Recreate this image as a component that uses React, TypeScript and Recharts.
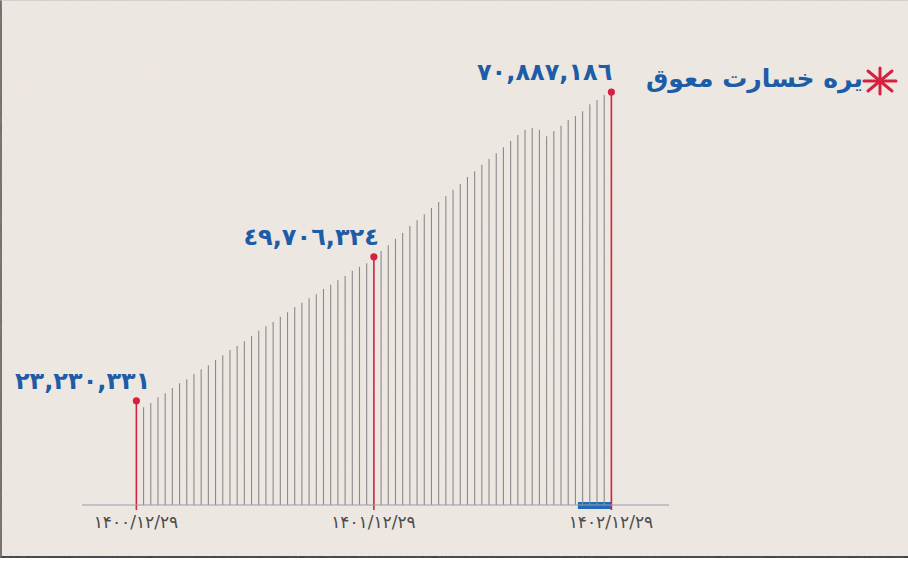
import React from 'react';
import { BarChart, Bar, XAxis, YAxis, ReferenceArea } from 'recharts';

// line heights (millions, visual scale)
const barValues = [
  17.9, 16.8, 17.5, 18.5, 19.2, 20.1, 20.9, 21.6, 22.5, 23.3, 24.0, 24.9,
  25.7, 26.6, 27.3, 28.1, 29.0, 29.9, 30.7, 31.4, 32.3, 33.1, 34.0, 34.7,
  35.5, 36.2, 37.1, 37.8, 38.6, 39.3, 40.2, 40.9, 41.5, 42.6, 43.6, 44.6,
  45.7, 46.7, 47.9, 48.9, 49.9, 51.0, 52.0, 53.0, 54.1, 55.1, 56.3, 57.3,
  58.4, 59.4, 60.4, 61.4, 62.5, 63.5, 64.4, 64.7, 64.4, 63.3, 64.2, 65.1,
  66.1, 66.8, 67.6, 68.8, 69.5, 70.4, 70.9,
];
const keyPoints = [0, 33, 66];
const keyValueLabels = ['٢٣,٢٣٠,٣٣١', '٤٩,٧٠٦,٣٢٤', '٧٠,٨٨٧,١٨٦'];
const dateLabels = ['۱۴۰۰/۱۲/۲۹', '۱۴۰۱/۱۲/۲۹', '۱۴۰۲/۱۲/۲۹'];
const legendText = 'یره خسارت معوق';

const labelDx = [14, 5, 1];
const BLUE = '#1d5ca6';
const RED = '#d4213d';
const FONT = '"DejaVu Sans", sans-serif';

const rows = barValues.map((v, i) => ({ i, v }));

const StemShape = (props: any) => {
  const { x, y, width, height } = props;
  const idx = props.payload?.i ?? props.index;
  const cx = x + width / 2;
  const k = keyPoints.indexOf(idx);
  if (k < 0) {
    return <line x1={cx} x2={cx} y1={y} y2={y + height} stroke="#8a8a8a" strokeWidth={1.1} />;
  }
  return (
    <g>
      <line x1={cx} x2={cx} y1={y} y2={y + height + 5} stroke={RED} strokeWidth={1.6} />
      <circle cx={cx} cy={y} r={3.6} fill={RED} />
      <text
        x={cx + labelDx[k]}
        y={y - 12}
        textAnchor="end"
        fill={BLUE}
        fontFamily={FONT}
        fontWeight="bold"
        fontSize={24}
      >
        {keyValueLabels[k]}
      </text>
    </g>
  );
};

const Star = ({ cx, cy }: { cx: number; cy: number }) => (
  <g stroke={RED} strokeWidth={3} strokeLinecap="round">
    <line x1={cx - 16} y1={cy} x2={cx + 16} y2={cy} />
    <line x1={cx} y1={cy - 13} x2={cx} y2={cy + 13} />
    <line x1={cx - 12} y1={cy - 10} x2={cx + 12} y2={cy + 10} />
    <line x1={cx - 12} y1={cy + 10} x2={cx + 12} y2={cy - 10} />
  </g>
);

export default function App() {
  return (
    <div style={{ position: 'fixed', left: 0, top: 0, width: 908, height: 562, background: '#fff' }}>
      <div
        style={{
          position: 'absolute',
          left: 0,
          top: 0,
          width: 906,
          height: 555,
          background: '#ede7e2',
          borderLeft: '2px solid #6a6a6a',
          borderTop: '1px solid #d2cdca',
          borderBottom: '2px solid #3c3c3c',
        }}
      />
      <svg width={908} height={558} style={{ position: 'absolute', left: 0, top: 0, opacity: 0.35 }}>
        <filter id="grain">
          <feTurbulence type="fractalNoise" baseFrequency="0.9 0.08" numOctaves={2} seed={4} />
          <feColorMatrix values="0 0 0 0 0.85  0 0 0 0 0.78  0 0 0 0 0.74  0 0 0 0.5 0" />
        </filter>
        <rect x={2} y={1} width={904} height={555} filter="url(#grain)" />
      </svg>
      <div style={{ position: 'absolute', left: 0, top: 0 }}>
        <BarChart
          width={908}
          height={562}
          data={rows}
          margin={{ top: 39, right: 239, left: 82, bottom: 27 }}
        >
          <XAxis
            dataKey="i"
            type="number"
            domain={[-7.5, 74.06]}
            ticks={keyPoints}
            tickFormatter={(v: number) => dateLabels[keyPoints.indexOf(v)] ?? ''}
            tickLine={false}
            axisLine={{ stroke: '#979cab', strokeWidth: 1 }}
            tick={{ fill: '#4a4a4a', fontSize: 17, fontFamily: FONT, dy: 3 }}
            height={30}
            interval={0}
          />
          <YAxis hide domain={[0, 80]} />
          <Bar dataKey="v" barSize={2} shape={<StemShape />} isAnimationActive={false} />
          <ReferenceArea
            x1={61.4}
            x2={66}
            y1={-0.7}
            y2={0.5}
            fill="#1e6cb9"
            fillOpacity={1}
            stroke="none"
            ifOverflow="visible"
          />
        </BarChart>
      </div>
      <svg width={908} height={120} style={{ position: 'absolute', left: 0, top: 0 }}>
        <text
          x={863}
          y={87}
          textAnchor="end"
          fill={BLUE}
          fontFamily={FONT}
          fontWeight="bold"
          fontSize={25}
        >
          {legendText}
        </text>
        <Star cx={880} cy={81} />
      </svg>
    </div>
  );
}
